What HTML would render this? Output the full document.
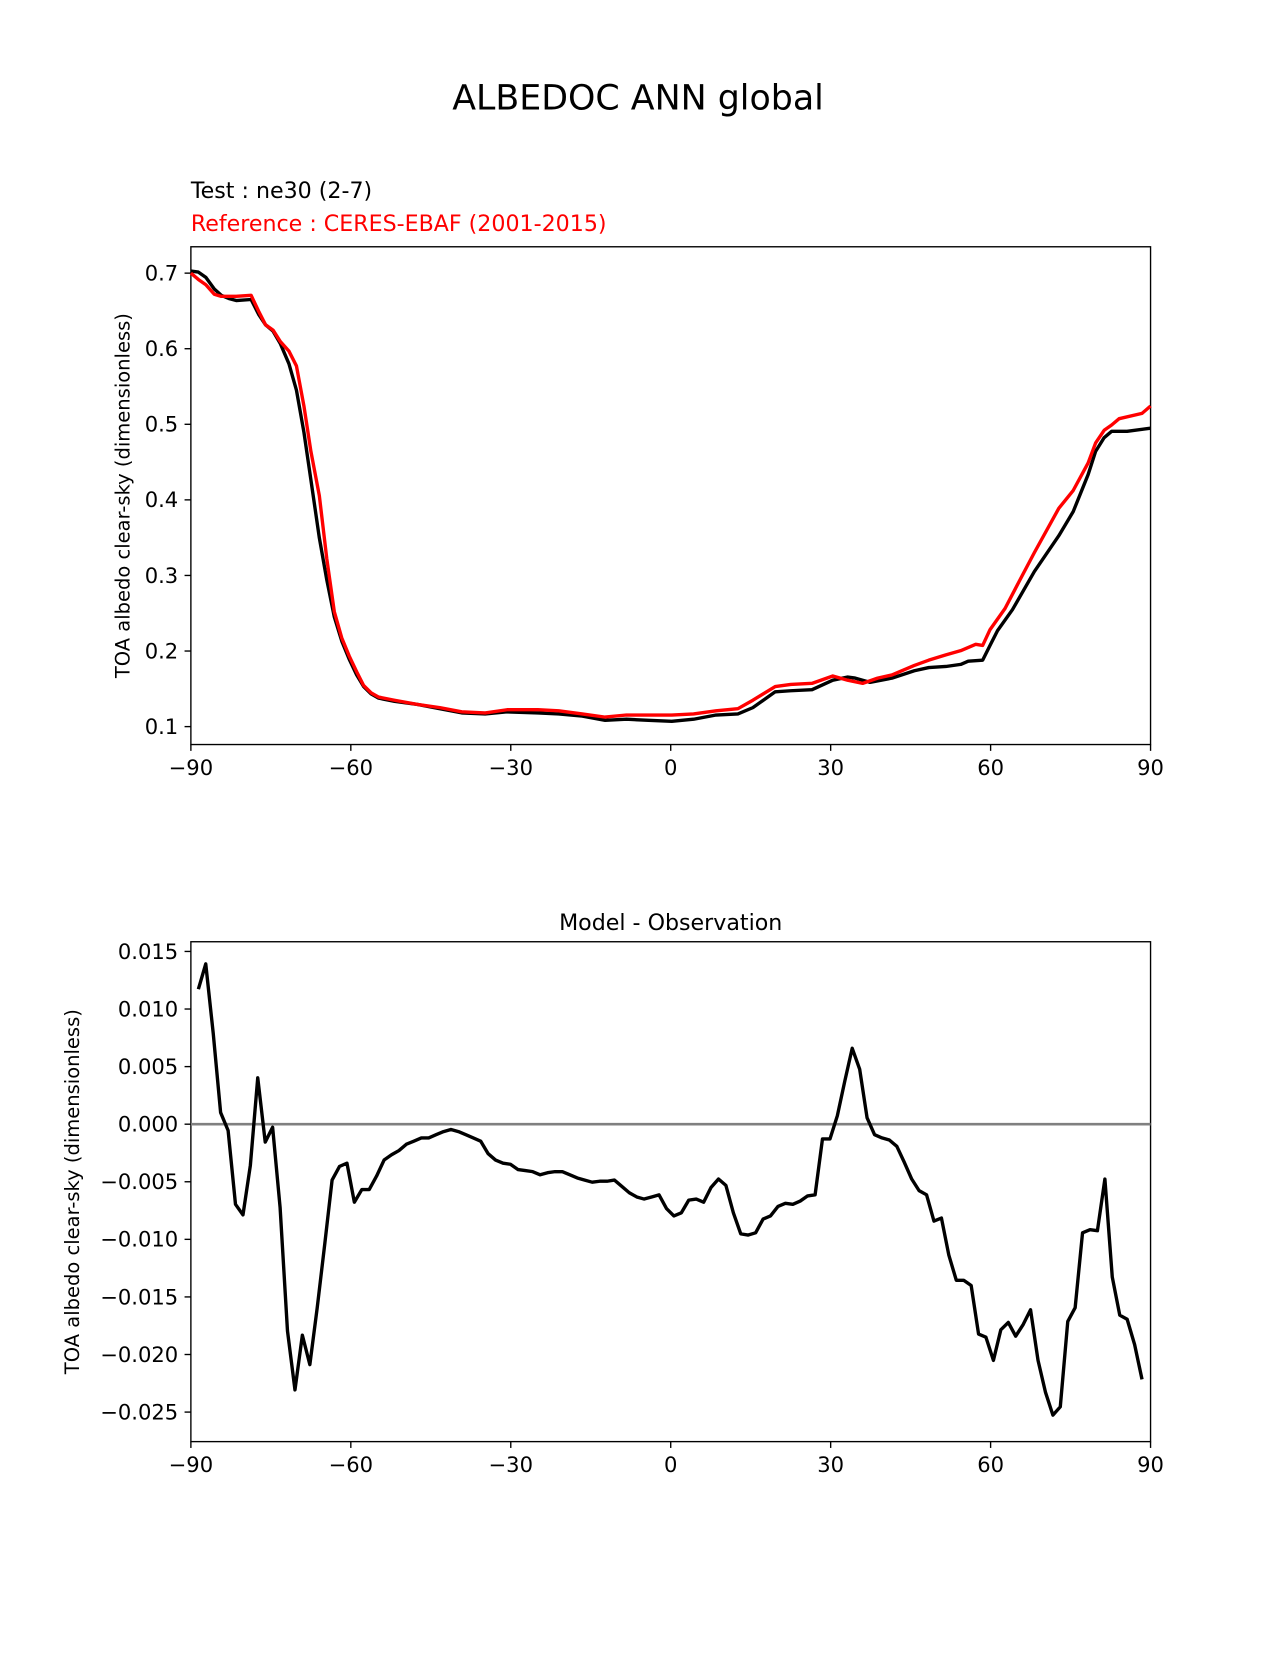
<!DOCTYPE html>
<html><head><meta charset="utf-8"><style>
body{margin:0;background:#fff}
svg text{font-family:"DejaVu Sans","Liberation Sans",sans-serif}
</style></head><body>
<svg id="fig" width="1275" height="1650" viewBox="0 0 1209 1564.6" preserveAspectRatio="none" xmlns="http://www.w3.org/2000/svg">
<rect width="1275" height="1650" fill="#fff"/>
<text x="605" y="104" font-size="33" text-anchor="middle">ALBEDOC ANN global</text>
<text x="181" y="188" font-size="21">Test : ne30 (2-7)</text>
<text x="181" y="219" font-size="21" fill="#f00">Reference : CERES-EBAF (2001-2015)</text>
<text transform="translate(123,470) rotate(-90)" font-size="18.5" text-anchor="middle">TOA albedo clear-sky (dimensionless)</text>
<text x="636" y="882" font-size="21" text-anchor="middle">Model - Observation</text>
<text transform="translate(75,1130) rotate(-90)" font-size="18.5" text-anchor="middle">TOA albedo clear-sky (dimensionless)</text>
<g id="top"></g><g id="bot"></g>
</svg>
<script>
const xTicks=[-90,-60,-30,0,30,60,90];
const xTickLabels=["\u221290","\u221260","\u221230","0","30","60","90"];
const topYTicks=[0.1,0.2,0.3,0.4,0.5,0.6,0.7];
const topYTickLabels=["0.1","0.2","0.3","0.4","0.5","0.6","0.7"];
const botYTicks=[0.015,0.010,0.005,0,-0.005,-0.010,-0.015,-0.020,-0.025];
const botYTickLabels=["0.015","0.010","0.005","0.000","\u22120.005","\u22120.010","\u22120.015","\u22120.020","\u22120.025"];
const testLat=[-90,-88.6,-87.2,-85.6,-84.3,-82.9,-81.5,-78.7,-77.3,-76.0,-74.6,-73.2,-71.6,-70.2,-68.8,-67.5,-65.9,-64.5,-63.1,-61.7,-60.3,-58.9,-57.6,-56.2,-54.8,-51.8,-47.5,-43.3,-39.2,-34.8,-30.7,-24.9,-21.0,-16.6,-12.3,-8.3,-4.2,0.2,4.3,8.5,12.6,15.4,19.6,22.5,26.5,30.4,33.2,34.6,37.4,41.5,45.7,48.4,51.6,54.4,55.8,58.5,59.9,61.3,64.1,68.2,72.8,75.5,78.3,79.7,81.3,82.7,85.6,90];
const testVal=[0.7028,0.7014,0.6944,0.6791,0.6707,0.6665,0.6637,0.6651,0.6456,0.6316,0.6233,0.6065,0.5800,0.5451,0.4893,0.4265,0.3498,0.2939,0.2451,0.2130,0.1893,0.1684,0.1530,0.1433,0.1377,0.1335,0.1293,0.1237,0.1181,0.1167,0.1195,0.1181,0.1167,0.1140,0.1084,0.1098,0.1084,0.1070,0.1098,0.1153,0.1167,0.1251,0.1460,0.1474,0.1488,0.1614,0.1656,0.1642,0.1586,0.1642,0.1740,0.1781,0.1795,0.1823,0.1865,0.1879,0.2074,0.2270,0.2549,0.3051,0.3526,0.3847,0.4335,0.4642,0.4823,0.4907,0.4907,0.4949];
const refLat=[-90,-88.6,-87.2,-85.6,-84.3,-81.5,-78.7,-77.3,-76.0,-74.6,-73.2,-71.6,-70.2,-68.8,-67.5,-65.9,-64.5,-63.1,-61.7,-60.3,-58.9,-57.6,-56.2,-54.8,-51.8,-47.5,-43.3,-39.2,-34.8,-30.7,-24.9,-21.0,-16.6,-12.3,-8.3,-4.2,0.2,4.3,8.5,12.6,15.4,19.6,22.5,26.5,30.4,33.2,36.0,38.8,41.5,45.7,48.4,51.6,54.4,57.2,58.5,59.9,62.7,65.5,68.2,72.8,75.5,78.3,79.7,81.3,82.7,84.1,88.4,90];
const refVal=[0.7000,0.6916,0.6846,0.6721,0.6693,0.6693,0.6707,0.6497,0.6316,0.6247,0.6093,0.5967,0.5772,0.5242,0.4642,0.4056,0.3219,0.2521,0.2172,0.1935,0.1726,0.1544,0.1447,0.1391,0.1349,0.1293,0.1251,0.1195,0.1181,0.1223,0.1223,0.1209,0.1167,0.1126,0.1153,0.1153,0.1153,0.1167,0.1209,0.1237,0.1349,0.1530,0.1558,0.1572,0.1670,0.1614,0.1572,0.1642,0.1684,0.1809,0.1879,0.1949,0.2005,0.2088,0.2074,0.2284,0.2563,0.2939,0.3302,0.3888,0.4125,0.4488,0.4753,0.4921,0.4991,0.5074,0.5144,0.5242];
const diffVal=[0.01172,0.01392,0.00788,0.00101,-0.00055,-0.00696,-0.00788,-0.00357,0.00403,-0.00156,-0.00027,-0.00723,-0.01795,-0.02308,-0.01832,-0.02088,-0.01593,-0.01044,-0.00485,-0.00366,-0.00339,-0.00678,-0.00568,-0.00568,-0.00449,-0.00311,-0.00266,-0.00229,-0.00174,-0.00147,-0.00119,-0.00119,-0.00092,-0.00064,-0.00046,-0.00064,-0.00092,-0.00119,-0.00147,-0.00256,-0.00311,-0.00339,-0.00348,-0.00394,-0.00403,-0.00412,-0.0044,-0.00421,-0.00412,-0.00412,-0.0044,-0.00467,-0.00485,-0.00504,-0.00495,-0.00495,-0.00485,-0.0054,-0.00595,-0.00632,-0.0065,-0.00632,-0.00614,-0.00733,-0.00797,-0.00769,-0.00659,-0.0065,-0.00678,-0.00549,-0.00476,-0.00531,-0.00769,-0.00952,-0.00962,-0.00943,-0.00824,-0.00797,-0.00714,-0.00687,-0.00696,-0.00668,-0.00623,-0.00614,-0.00128,-0.00128,0.00073,0.00375,0.00659,0.00476,0.00055,-0.00092,-0.00119,-0.00137,-0.00192,-0.0033,-0.00476,-0.00577,-0.00614,-0.00842,-0.00815,-0.01136,-0.01355,-0.01355,-0.01401,-0.01822,-0.0185,-0.02051,-0.01786,-0.01722,-0.01841,-0.0174,-0.01612,-0.02051,-0.02326,-0.02527,-0.02454,-0.01712,-0.01593,-0.00943,-0.00916,-0.00925,-0.00476,-0.01328,-0.01658,-0.01694,-0.01914,-0.02216];
const diffLat=diffVal.map((v,i)=>-88.6+i*177/(diffVal.length-1));

const NS="http://www.w3.org/2000/svg";
function mk(parent,tag,attrs){const e=document.createElementNS(NS,tag);for(const k in attrs)e.setAttribute(k,attrs[k]);parent.appendChild(e);return e;}
const X0=181,X1=1091;
const xs=lat=>X0+(lat+90)/180*(X1-X0);

function axes(g,top,bot,ys,yTicks,yLabels,prefix){
  const fr=mk(g,'rect',{x:X0,y:top,width:X1-X0,height:bot-top,fill:'none',stroke:'#000','stroke-width':1.3});
  
  
  xTicks.forEach((t,i)=>{
    const x=xs(t);
    const l=mk(g,'line',{x1:x,x2:x,y1:bot,y2:bot+6,stroke:'#000','stroke-width':1.3});
    
    
    const tx=mk(g,'text',{x:x,y:bot+29,'font-size':20,'text-anchor':'middle'});
    tx.textContent=xTickLabels[i];
    
    
  });
  yTicks.forEach((t,i)=>{
    const y=ys(t);
    const l=mk(g,'line',{x1:X0-6,x2:X0,y1:y,y2:y,stroke:'#000','stroke-width':1.3});
    
    
    const tx=mk(g,'text',{x:X0-12,y:y+7,'font-size':20,'text-anchor':'end'});
    tx.textContent=yLabels[i];
    
    
  });
}
function line(g,lats,vals,ys,color,name,w){
  const p=mk(g,'polyline',{points:lats.map((a,i)=>xs(a).toFixed(1)+','+ys(vals[i]).toFixed(1)).join(' '),fill:'none',stroke:color,'stroke-width':w||3.2,'stroke-linejoin':'round'});
  
  
}
const gt=document.getElementById('top');
const ysT=v=>689-(v-0.1)/0.6*430;
axes(gt,234,706,ysT,topYTicks,topYTickLabels,'top');
line(gt,testLat,testVal,ysT,'#000','test-line');
line(gt,refLat,refVal,ysT,'#f00','reference-line');
const gb=document.getElementById('bot');
const ysB=v=>1066-v/0.005*54.6;
axes(gb,893,1367,ysB,botYTicks,botYTickLabels,'bottom');
const z=mk(gb,'line',{x1:X0,x2:X1,y1:ysB(0),y2:ysB(0),stroke:'#808080','stroke-width':2.5});


line(gb,diffLat,diffVal,ysB,'#000','difference-line');
</script>
</body></html>
